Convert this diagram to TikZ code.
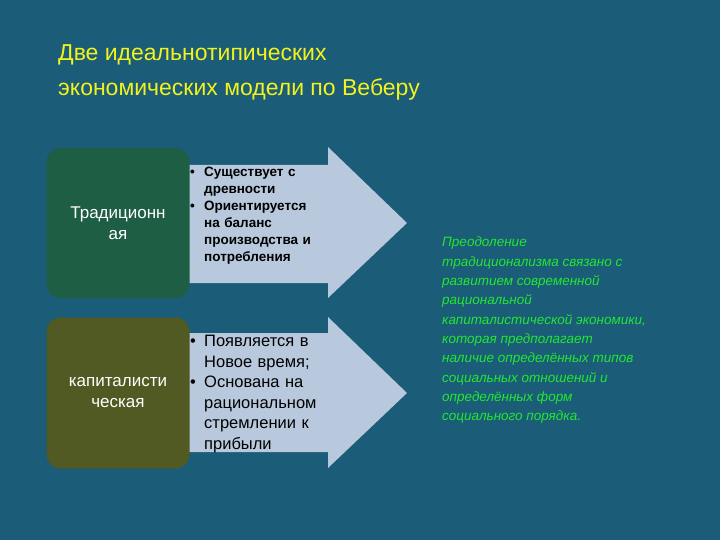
\documentclass[tikz,border=0pt]{standalone}
\usepackage{fontspec}
\setmainfont{Liberation Sans}
\definecolor{bg}{HTML}{1B5C78}
\definecolor{gbox}{HTML}{1E5E45}
\definecolor{obox}{HTML}{505A22}
\definecolor{arr}{HTML}{B9C9DD}
\definecolor{ttl}{HTML}{F2F21E}
\definecolor{grn}{HTML}{22E830}
\begin{document}
\begin{tikzpicture}[x=1pt,y=-1pt,
  lbl/.style={white,font=\fontsize{17}{21}\selectfont,align=center},
  bl/.style={align=left,text width=130pt,inner sep=0pt,anchor=north west}]
\useasboundingbox (0,0) rectangle (720,540);
\fill[bg] (0,0) rectangle (720,540);
\node[anchor=north west,ttl,font=\fontsize{23}{35}\selectfont,align=left,inner sep=0pt] (title) at (58,44) {Две идеальнотипических\\экономических модели по Веберу};
% arrows
\fill[arr] (186,165) -- (328,165) -- (328,147) -- (407,223) -- (328,298) -- (328,283) -- (186,283) -- cycle;
\fill[arr] (186,333) -- (328,333) -- (328,317) -- (407,393) -- (328,468) -- (328,452) -- (186,452) -- cycle;
\node[fill=gbox,rounded corners=14pt,minimum width=143pt,minimum height=150pt,inner sep=0pt] (b1) at (118,223) {};
\node[lbl] at (b1) {Традиционн\\ая};
\node[fill=obox,rounded corners=14pt,minimum width=143pt,minimum height=151pt,inner sep=0pt] (b2) at (118,393) {};
\node[lbl] at (b2) {капиталисти\\ческая};
\node[bl,font=\fontsize{13.5}{17}\selectfont\bfseries] (t1) at (190,167) {%
\makebox[14pt][l]{•}Существует с\\\hspace*{14pt}древности\\\makebox[14pt][l]{•}Ориентируется\\\hspace*{14pt}на баланс\\\hspace*{14pt}производства и\\\hspace*{14pt}потребления};
\node[bl,font=\fontsize{16.5}{20.5}\selectfont] (t2) at (190,335) {%
\makebox[14pt][l]{•}Появляется в\\\hspace*{14pt}Новое время;\\\makebox[14pt][l]{•}Основана на\\\hspace*{14pt}рациональном\\\hspace*{14pt}стремлении к\\\hspace*{14pt}прибыли};
\node[anchor=north west,grn,inner sep=0pt,align=left,font=\fontsize{13.5}{19.3}\selectfont\itshape] (r) at (442,237) {Преодоление\\традиционализма связано с\\развитием современной\\рациональной\\капиталистической экономики,\\которая предполагает\\наличие определённых типов\\социальных отношений и\\определённых форм\\социального порядка.};
\end{tikzpicture}
\end{document}
